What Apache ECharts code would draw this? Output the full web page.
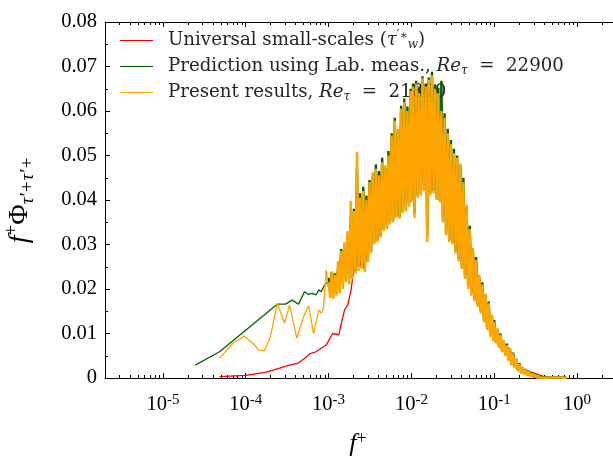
<!DOCTYPE html>
<html>
<head>
<meta charset="utf-8">
<script src="https://cdn.jsdelivr.net/npm/echarts@6/dist/echarts.min.js"></script>
<style>html,body{margin:0;padding:0;background:#fff;}#c{width:613px;height:457px;}</style>
</head>
<body>
<div id="c"></div>
<script>
// ---------- data ----------
const seriesNames = [
  'Universal small-scales',
  'Prediction using Lab. meas.',
  'Present results'
];
// red: universal small scales
const fRed = [4.83e-5,1.01e-4,1.77e-4,2.56e-4,3.38e-4,4.25e-4,5.12e-4,5.88e-4,7.08e-4,8.15e-4,9.35e-4,1.12e-3,1.33e-3,1.44e-3,1.56e-3,1.70e-3,1.87e-3,1.96e-3,2.15e-3,2.32e-3,2.42e-3,2.54e-3,2.71e-3,2.97e-3,3.5e-3,5e-3,7e-3,1e-2,1.5e-2,2e-2,3e-2,5e-2,1e-1,2e-1,4e-1,7e-1];
const vRed = [0.0003,0.0006,0.0013,0.0022,0.0029,0.0033,0.0044,0.0054,0.0059,0.0067,0.0074,0.0100,0.0097,0.0127,0.0153,0.0164,0.0198,0.0228,0.0269,0.0273,0.0250,0.0269,0.0243,0.0299,0.0330,0.0400,0.0470,0.0520,0.0550,0.0530,0.0450,0.0250,0.0100,0.0022,0.0003,0.0001];
// green: low-frequency part
const fGreenLow = [2.46e-5,4.83e-5,2.40e-4,3.02e-4,3.64e-4,4.33e-4,5.12e-4,5.61e-4,6.34e-4,7.08e-4,7.62e-4,8.15e-4,8.93e-4,9.78e-4,1.000e-3];
const vGreenLow = [0.0029,0.0059,0.0166,0.0166,0.0175,0.0166,0.0194,0.0188,0.0190,0.0187,0.0198,0.0194,0.0209,0.0216,0.0225];
// orange: low-frequency part
const fOrangeLow = [4.83e-5,7.0e-5,9.67e-5,1.28e-4,1.43e-4,1.69e-4,1.99e-4,2.40e-4,2.94e-4,3.38e-4,4.13e-4,4.98e-4,5.77e-4,6.58e-4,7.62e-4,8.15e-4,8.68e-4,9.35e-4,9.8e-4,1.000e-3];
const vOrangeLow = [0.0044,0.0078,0.0094,0.0074,0.0063,0.0061,0.0093,0.0168,0.0123,0.0164,0.0089,0.0138,0.0162,0.0099,0.0153,0.0145,0.0157,0.0243,0.0205,0.0215];
// dense part (shared frequencies)
const fDense = [
1.000e-3,1.045e-3,1.090e-3,1.140e-3,1.190e-3,1.245e-3,1.300e-3,1.360e-3,1.420e-3,1.485e-3,1.550e-3,1.620e-3,1.690e-3,1.770e-3,1.850e-3,1.930e-3,2.020e-3,2.110e-3,2.200e-3,2.300e-3,2.400e-3,2.510e-3,2.620e-3,2.740e-3,2.860e-3,2.990e-3,3.120e-3,3.260e-3,3.410e-3,3.560e-3,3.720e-3,3.890e-3,4.060e-3,4.240e-3,4.430e-3,4.630e-3,4.840e-3,5.060e-3,5.280e-3,5.520e-3,5.770e-3,6.030e-3,6.300e-3,6.580e-3,6.880e-3,7.180e-3,7.510e-3,7.840e-3,8.200e-3,8.560e-3,8.950e-3,9.350e-3,9.770e-3,
1.000e-2,1.045e-2,1.090e-2,1.140e-2,1.190e-2,1.245e-2,1.300e-2,1.360e-2,1.420e-2,1.485e-2,1.550e-2,1.620e-2,1.690e-2,1.770e-2,1.850e-2,1.930e-2,2.020e-2,2.110e-2,2.200e-2,2.300e-2,2.400e-2,2.510e-2,2.620e-2,2.740e-2,2.860e-2,2.990e-2,3.120e-2,3.260e-2,3.410e-2,3.560e-2,3.720e-2,3.890e-2,4.060e-2,4.240e-2,4.430e-2,4.630e-2,4.840e-2,5.060e-2,5.280e-2,5.520e-2,5.770e-2,6.030e-2,6.300e-2,6.580e-2,6.880e-2,7.180e-2,7.510e-2,7.840e-2,8.200e-2,8.560e-2,8.950e-2,9.350e-2,9.770e-2,
1.000e-1,1.045e-1,1.090e-1,1.140e-1,1.190e-1,1.245e-1,1.300e-1,1.360e-1,1.420e-1,1.485e-1,1.550e-1,1.620e-1,1.690e-1,1.770e-1,1.850e-1,1.930e-1,2.020e-1,2.110e-1,2.200e-1,2.300e-1,2.400e-1,2.510e-1,2.620e-1,2.740e-1,2.860e-1,2.990e-1,3.120e-1,3.260e-1,3.410e-1,3.560e-1,3.720e-1,3.890e-1,4.060e-1,4.240e-1,4.430e-1,
4.840e-1,5.280e-1,5.770e-1,6.300e-1,6.880e-1,7.510e-1];
const vOrangeDense = [
0.0215,0.0180,0.0240,0.0178,0.0232,0.0185,0.0262,0.0190,0.0285,0.0200,0.0305,0.0215,0.0330,0.0210,0.0398,0.0222,0.0375,0.0235,0.0508,0.0240,0.0405,0.0245,0.0420,0.0238,0.0400,0.0260,0.0440,0.0280,0.0462,0.0300,0.0470,0.0305,0.0455,0.0315,0.0485,0.0330,0.0478,0.0335,0.0500,0.0345,0.0545,0.0350,0.0578,0.0360,0.0560,0.0358,0.0605,0.0370,0.0620,0.0375,0.0600,0.0385,0.0645,
0.0395,0.0655,0.0360,0.0662,0.0405,0.0640,0.0410,0.0674,0.0420,0.0655,0.0305,0.0670,0.0410,0.0681,0.0415,0.0650,0.0400,0.0640,0.0395,0.0600,0.0350,0.0585,0.0320,0.0550,0.0305,0.0525,0.0300,0.0505,0.0280,0.0495,0.0262,0.0482,0.0245,0.0440,0.0222,0.0390,0.0200,0.0335,0.0185,0.0292,0.0172,0.0265,0.0160,0.0232,0.0145,0.0210,0.0125,0.0190,0.0108,0.0168,0.0092,0.0142,0.0083,
0.0126,0.0078,0.0112,0.0068,0.0097,0.0058,0.0085,0.0049,0.0074,0.0038,0.0068,0.0028,0.0055,0.0022,0.0044,0.0015,0.0031,0.0010,0.0025,0.0008,0.0019,0.0005,0.0015,0.0003,0.0010,0.0002,0.0008,0.0001,0.0005,0.0001,0.0004,0.00005,0.0003,0.00005,0.0002,
0.0001,0.00012,0.0001,0.00008,0.00005,0.00004];
const vGreenDense = [
0.0225,0.0200,0.0238,0.0205,0.0235,0.0215,0.0245,0.0212,0.0290,0.0225,0.0275,0.0230,0.0320,0.0225,0.0360,0.0235,0.0380,0.0240,0.0470,0.0250,0.0415,0.0255,0.0430,0.0250,0.0410,0.0270,0.0445,0.0285,0.0455,0.0305,0.0480,0.0310,0.0465,0.0320,0.0495,0.0335,0.0470,0.0340,0.0510,0.0350,0.0550,0.0355,0.0585,0.0365,0.0555,0.0362,0.0612,0.0375,0.0628,0.0380,0.0610,0.0390,0.0650,
0.0400,0.0662,0.0370,0.0668,0.0410,0.0655,0.0415,0.0678,0.0425,0.0662,0.0320,0.0675,0.0415,0.0688,0.0420,0.0660,0.0405,0.0652,0.0400,0.0668,0.0355,0.0595,0.0325,0.0560,0.0310,0.0535,0.0305,0.0515,0.0285,0.0500,0.0268,0.0478,0.0250,0.0450,0.0228,0.0385,0.0205,0.0342,0.0190,0.0288,0.0176,0.0272,0.0165,0.0228,0.0150,0.0215,0.0130,0.0186,0.0112,0.0172,0.0096,0.0140,0.0087,
0.0130,0.0081,0.0108,0.0071,0.0100,0.0061,0.0082,0.0051,0.0077,0.0040,0.0064,0.0030,0.0057,0.0024,0.0042,0.0017,0.0033,0.0012,0.0023,0.0009,0.0020,0.0006,0.0016,0.0004,0.0011,0.0003,0.0009,0.0002,0.0006,0.0001,0.0004,0.0001,0.0003,0.0001,0.0002,
0.0001,0.00015,0.0001,0.0001,0.00005,0.00005];
// axis ticks
const xMajorTicks = [1e-5,1e-4,1e-3,1e-2,1e-1,1];
const xMinorTicks = [2e-6,3e-6,4e-6,5e-6,6e-6,7e-6,8e-6,9e-6,2e-5,3e-5,4e-5,5e-5,6e-5,7e-5,8e-5,9e-5,2e-4,3e-4,4e-4,5e-4,6e-4,7e-4,8e-4,9e-4,2e-3,3e-3,4e-3,5e-3,6e-3,7e-3,8e-3,9e-3,2e-2,3e-2,4e-2,5e-2,6e-2,7e-2,8e-2,9e-2,2e-1,3e-1,4e-1,5e-1,6e-1,7e-1,8e-1,9e-1,2,3,4];

// ---------- build ----------
function zip(fs, vs){ const n=Math.min(fs.length,vs.length); const out=[]; for(let i=0;i<n;i++) out.push([fs[i],vs[i]]); return out; }
const redData = zip(fRed, vRed);
const greenLowData = zip(fGreenLow, vGreenLow);
const greenDenseData = zip(fDense, vGreenDense);
const orangeLowData = zip(fOrangeLow, vOrangeLow);
const orangeDenseData = zip(fDense, vOrangeDense);

const SERIF = "'Liberation Serif','DejaVu Serif',serif";
const LSERIF = "'DejaVu Serif','Liberation Serif',serif";
const XMIN = 2e-6, XMAX = 4;
const RED = '#ff0000', GREEN = '#006400', ORANGE = '#ffa500';
const LFS = 18.2;

const chart = echarts.init(document.getElementById('c'), null, {renderer:'canvas'});
const baseX = {type:'log', logBase:10, min:XMIN, max:XMAX, gridIndex:0, splitLine:{show:false}};
const lineIcon = 'path://M0,0 L40,0 L40,1.4 L0,1.4 Z';
chart.setOption({
  animation:false,
  backgroundColor:'#fff',
  grid:{left:105, top:22, width:522, height:356, containLabel:false, outerBoundsMode:'none', show:false},
  legend:{
    left:120, top:30, padding:0, orient:'vertical', itemGap:5, itemWidth:33, itemHeight:1.4,
    icon:lineIcon,
    data:seriesNames,
    formatter:function(name){
      if(name===seriesNames[0]) return 'Universal small-scales ({m|τ}{sup|′∗}{sub|w}{n|)}';
      if(name===seriesNames[1]) return 'Prediction using Lab. meas., {m|Re}{sub|τ}{n|  =  22900}';
      return 'Present results, {m|Re}{sub|τ}{n|  =  21800}';
    },
    textStyle:{fontFamily:LSERIF, fontSize:LFS, color:'#262626', lineHeight:21, padding:[0,0,0,10],
      rich:{
        m:{fontFamily:LSERIF, fontStyle:'italic', fontSize:LFS, color:'#262626', lineHeight:21},
        n:{fontFamily:LSERIF, fontSize:LFS, color:'#262626', lineHeight:21},
        sup:{fontFamily:LSERIF, fontSize:12, color:'#262626', verticalAlign:'top', lineHeight:13},
        sub:{fontFamily:LSERIF, fontStyle:'italic', fontSize:12, color:'#262626', verticalAlign:'bottom', lineHeight:13}
      }}
  },
  xAxis:[
    Object.assign({}, baseX, {
      position:'bottom',
      axisLine:{show:true, onZero:false, lineStyle:{color:'#000', width:1}},
      axisTick:{show:true, inside:true, length:5, customValues:xMajorTicks, lineStyle:{color:'#000'}},
      axisLabel:{show:true, margin:15, customValues:xMajorTicks,
        formatter:function(v){ const e=Math.round(Math.log10(v)); return '{b|10}{s|'+e+'}'; },
        rich:{ b:{fontFamily:SERIF, fontSize:20.5, color:'#000', lineHeight:24},
               s:{fontFamily:SERIF, fontSize:15, color:'#000', verticalAlign:'top', lineHeight:15}}},
      name:'{i|f}{s|+}', nameLocation:'middle', nameGap:52,
      nameTextStyle:{padding:[0,16,0,0], rich:{
        i:{fontFamily:SERIF, fontStyle:'italic', fontSize:26, color:'#000', lineHeight:28},
        s:{fontFamily:SERIF, fontSize:18, color:'#000', verticalAlign:'top', lineHeight:18}}}
    }),
    Object.assign({}, baseX, {
      position:'bottom',
      axisLine:{show:false},
      axisTick:{show:true, inside:true, length:3, customValues:xMinorTicks, lineStyle:{color:'#000'}},
      axisLabel:{show:false}
    }),
    Object.assign({}, baseX, {
      position:'top',
      axisLine:{show:true, onZero:false, lineStyle:{color:'#000', width:1}},
      axisTick:{show:true, inside:true, length:5, customValues:xMajorTicks, lineStyle:{color:'#000'}},
      axisLabel:{show:false}
    }),
    Object.assign({}, baseX, {
      position:'top',
      axisLine:{show:false},
      axisTick:{show:true, inside:true, length:3, customValues:xMinorTicks, lineStyle:{color:'#000'}},
      axisLabel:{show:false}
    })
  ],
  yAxis:[{
    type:'value', min:0, max:0.08, interval:0.01, position:'left',
    splitLine:{show:false},
    axisLine:{show:true, onZero:false, lineStyle:{color:'#000', width:1}},
    axisTick:{show:true, inside:true, length:5, lineStyle:{color:'#000'}},
    minorTick:{show:true, splitNumber:2, length:3, lineStyle:{color:'#000'}},
    axisLabel:{margin:8, fontFamily:SERIF, fontSize:20.5, color:'#000',
      formatter:function(v){ return v===0 ? '0' : v.toFixed(2); }},
    name:'{i|f}{s|+}{n|Φ}{b|τ′+τ′+}', nameLocation:'middle', nameGap:68, nameRotate:90,
    nameTextStyle:{rich:{
      i:{fontFamily:SERIF, fontStyle:'italic', fontSize:28, color:'#000', lineHeight:34},
      n:{fontFamily:SERIF, fontSize:28, color:'#000', lineHeight:34},
      s:{fontFamily:SERIF, fontSize:19, color:'#000', verticalAlign:'top', lineHeight:18},
      b:{fontFamily:SERIF, fontStyle:'italic', fontSize:19, color:'#000', verticalAlign:'bottom', lineHeight:18}}}
  }],
  series:[
    {name:seriesNames[0], type:'line', data:redData, showSymbol:false, symbol:'none',
     lineStyle:{color:RED, width:1.3}, itemStyle:{color:RED}, z:2},
    {name:seriesNames[1], type:'line', data:greenLowData, showSymbol:false, symbol:'none',
     lineStyle:{color:GREEN, width:1.3}, itemStyle:{color:GREEN}, z:3},
    {name:seriesNames[1], type:'line', data:greenDenseData, showSymbol:false, symbol:'none',
     lineStyle:{color:GREEN, width:2.4}, itemStyle:{color:GREEN}, z:3},
    {name:seriesNames[2], type:'line', data:orangeLowData, showSymbol:false, symbol:'none',
     lineStyle:{color:ORANGE, width:1.3}, itemStyle:{color:ORANGE}, z:4},
    {name:seriesNames[2], type:'line', data:orangeDenseData, showSymbol:false, symbol:'none',
     lineStyle:{color:ORANGE, width:2.4}, itemStyle:{color:ORANGE}, z:4}
  ]
});
</script>
</body>
</html>
